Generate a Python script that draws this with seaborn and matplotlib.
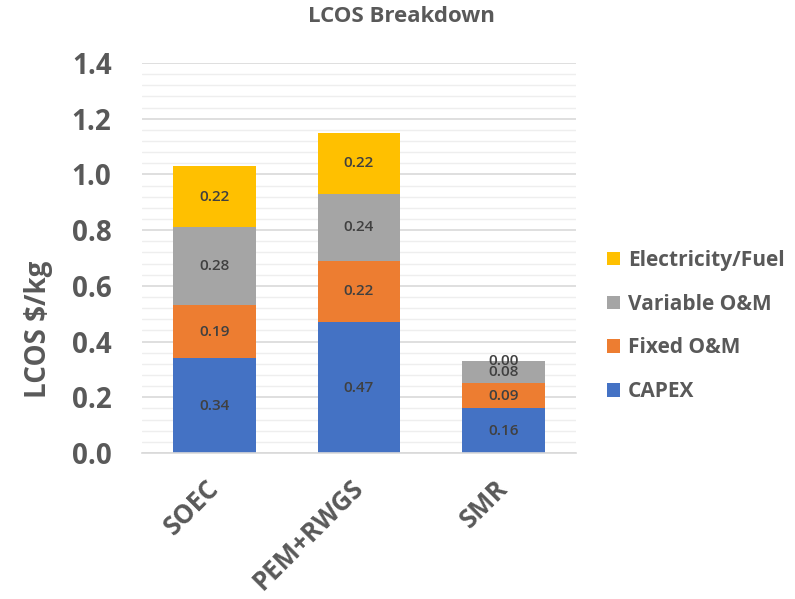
import matplotlib
matplotlib.use("Agg")
import matplotlib.pyplot as plt
import matplotlib.transforms as mtransforms
from matplotlib.patches import Patch
from matplotlib.ticker import MultipleLocator
import numpy as np
import pandas as pd
import seaborn as sns

# Levelized cost components per technology ($/kg)
technologies = ["SOEC", "PEM+RWGS", "SMR"]
capex = [0.34, 0.47, 0.16]
fixed_om = [0.19, 0.22, 0.09]
variable_om = [0.28, 0.24, 0.08]
electricity_fuel = [0.22, 0.22, 0.00]

components = ["CAPEX", "Fixed O&M", "Variable O&M", "Electricity/Fuel"]
colors = ["#4472C4", "#ED7D31", "#A5A5A5", "#FFC000"]
yticks = [0.0, 0.2, 0.4, 0.6, 0.8, 1.0, 1.2, 1.4]

TEXT = "#595959"
LABEL = "#404040"

sns.set_theme(style="white")
plt.rcParams["font.family"] = ["Open Sans", "DejaVu Sans"]

fig = plt.figure(figsize=(7.95, 5.99), dpi=100)
ax = fig.add_axes([142 / 795, 1 - 453 / 599, 434 / 795, 390 / 599])

layers = [capex, fixed_om, variable_om, electricity_fuel]
cum = np.cumsum(np.array(layers), axis=0)

# Stack by drawing cumulative totals from the top layer down
for i in reversed(range(len(layers))):
    df = pd.DataFrame({"tech": technologies, "total": cum[i]})
    sns.barplot(data=df, x="tech", y="total", color=colors[i], width=0.57,
                saturation=1, errorbar=None, edgecolor="none", ax=ax)

# Segment value labels
for i, vals in enumerate(layers):
    for j, v in enumerate(vals):
        ax.text(j, cum[i][j] - v / 2, f"{v:.2f}", ha="center", va="center",
                fontsize=11, fontweight="semibold", color=LABEL)

ax.set_xlim(-0.5, 2.5)
ax.set_ylim(0, 1.4)
ax.set_yticks(yticks)
ax.set_yticklabels([f"{t:.1f}" for t in yticks])
ax.yaxis.set_minor_locator(MultipleLocator(0.04))
ax.set_axisbelow(True)
ax.grid(which="major", axis="y", color="#D9D9D9", linewidth=1.2)
ax.grid(which="minor", axis="y", color="#EEEEEE", linewidth=1.0)
ax.grid(which="major", axis="x", visible=False)

for side in ["left", "right", "top"]:
    ax.spines[side].set_visible(False)
ax.spines["bottom"].set_color("#D9D9D9")
ax.spines["bottom"].set_linewidth(1.2)

ax.tick_params(axis="y", which="both", length=0, pad=22, labelsize=20,
               labelcolor=TEXT)
ax.tick_params(axis="x", length=0, pad=17, labelsize=18.5, labelcolor=TEXT)
for lab in ax.get_yticklabels():
    lab.set_fontweight("bold")
shift = mtransforms.ScaledTranslation(-9 / 100, 2 / 100, fig.dpi_scale_trans)
for lab in ax.get_xticklabels():
    lab.set_fontweight("bold")
    lab.set_rotation(45)
    lab.set_ha("right")
    lab.set_va("top")
    lab.set_rotation_mode("anchor")
    lab.set_transform(lab.get_transform() + shift)

ax.set_xlabel("")
ax.set_ylabel("LCOS $/kg", fontsize=20, fontweight="bold", color=TEXT)
ax.yaxis.set_label_coords(-0.205, 0.318)

fig.text(0.505, 1 - 17 / 599, "LCOS Breakdown", ha="center", va="center",
         fontsize=16, fontweight="bold", color=TEXT)

handles = [Patch(facecolor=colors[i], edgecolor="none") for i in reversed(range(4))]
labels = [components[i] for i in reversed(range(4))]
fig.legend(handles, labels, loc="center left",
           bbox_to_anchor=(607 / 795, 1 - 326 / 599), frameon=False,
           prop={"size": 15, "weight": "bold"}, labelcolor=TEXT,
           handlelength=0.6, handleheight=0.6, handletextpad=0.4,
           labelspacing=1.1, borderaxespad=0, borderpad=0)

fig.savefig("out.png", dpi=100)
